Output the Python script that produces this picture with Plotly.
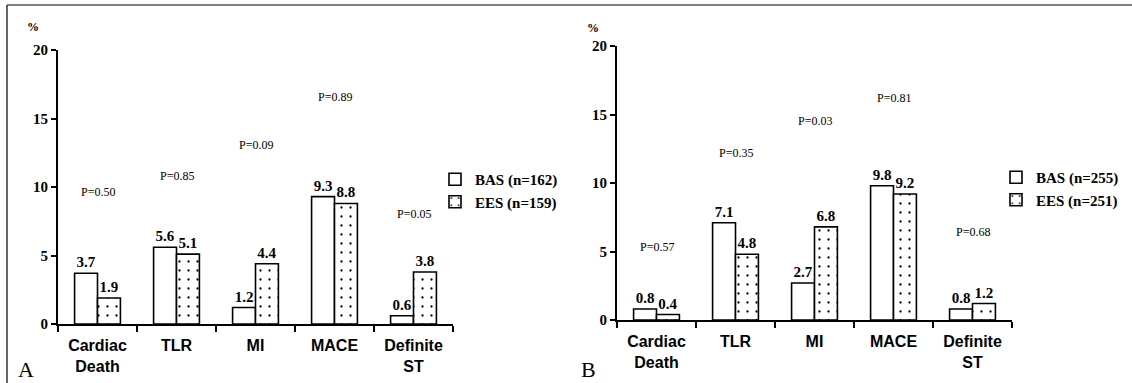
import plotly.graph_objects as go

# ---- data ----
categories = ["Cardiac<br>Death", "TLR", "MI", "MACE", "Definite<br>ST"]
bas_a = [3.7, 5.6, 1.2, 9.3, 0.6]
ees_a = [1.9, 5.1, 4.4, 8.8, 3.8]
bas_b = [0.8, 7.1, 2.7, 9.8, 0.8]
ees_b = [0.4, 4.8, 6.8, 9.2, 1.2]
p_a = ["P=0.50", "P=0.85", "P=0.09", "P=0.89", "P=0.05"]
p_b = ["P=0.57", "P=0.35", "P=0.03", "P=0.81", "P=0.68"]
legend_a = ["BAS (n=162)", "EES (n=159)"]
legend_b = ["BAS (n=255)", "EES (n=251)"]
y_ticks = [0, 5, 10, 15, 20]
panel_labels = ["A", "B"]

# ---- layout constants (label heights in axis units) ----
p_label_y_a = [9.6, 10.8, 13.1, 16.6, 8.0]
p_label_y_b = [5.3, 12.2, 14.5, 16.2, 6.4]

W, H = 1132, 383
SERIF = "Liberation Serif"
SANS = "Liberation Sans"


def px_x(v):
    return v / W


def px_y(v):
    return 1 - v / H


fig = go.Figure()

bar_line = dict(color="black", width=1.6)
dot_pattern = dict(shape=".", fgcolor="black", bgcolor="white", size=9, solidity=0.05)
txt_font = dict(family=SERIF, size=15, color="black")


def add_pair(bas, ees, names, xa, ya, leg):
    fig.add_trace(go.Bar(
        x=categories, y=bas, name=names[0], xaxis=xa, yaxis=ya, legend=leg,
        marker=dict(color="white", line=bar_line),
        texttemplate="<b>%{y:.1f}</b>", textposition="outside",
        textfont=txt_font, cliponaxis=False, constraintext="none",
    ))
    fig.add_trace(go.Bar(
        x=categories, y=ees, name=names[1], xaxis=xa, yaxis=ya, legend=leg,
        marker=dict(color="white", line=bar_line, pattern=dot_pattern),
        texttemplate="<b>%{y:.1f}</b>", textposition="outside",
        textfont=txt_font, cliponaxis=False, constraintext="none",
    ))


add_pair(bas_a, ees_a, legend_a, "x", "y", "legend")
add_pair(bas_b, ees_b, legend_b, "x2", "y2", "legend2")

xcommon = dict(
    showline=True, linecolor="black", linewidth=2, automargin=False,
    ticks="outside", ticklen=6, tickwidth=2, tickcolor="black",
    tickson="boundaries", showgrid=False, zeroline=False,
    tickfont=dict(family=SANS, size=16, color="black", weight="bold"),
    ticklabelstandoff=6, fixedrange=True,
)
ycommon = dict(
    range=[0, 20], tickmode="array", tickvals=y_ticks, automargin=False,
    showline=True, linecolor="black", linewidth=2,
    ticks="outside", ticklen=5, tickwidth=2, tickcolor="black",
    showgrid=False, zeroline=False,
    tickfont=dict(family=SERIF, size=15, color="black", weight="bold"),
    fixedrange=True,
)

legend_common = dict(
    xanchor="left", yanchor="top",
    font=dict(family=SERIF, size=15, color="black", weight="bold"),
    bgcolor="rgba(0,0,0,0)", itemwidth=30, tracegroupgap=0,
)

fig.update_layout(
    template="none",
    width=W, height=H, autosize=False,
    margin=dict(l=0, r=0, t=0, b=0, pad=0),
    paper_bgcolor="white", plot_bgcolor="white",
    barmode="group", bargap=0.42, bargroupgap=0,
    xaxis=dict(domain=[px_x(58), px_x(453)], anchor="y", **xcommon),
    yaxis=dict(domain=[px_y(324), px_y(50)], anchor="x", **ycommon),
    xaxis2=dict(domain=[px_x(617), px_x(1012)], anchor="y2", **xcommon),
    yaxis2=dict(domain=[px_y(320), px_y(46)], anchor="x2", **ycommon),
    legend=dict(x=px_x(435), y=px_y(163), **legend_common),
    legend2=dict(x=px_x(996), y=px_y(161), **legend_common),
    showlegend=True,
)

annotations = []
for cat, txt, yv in zip(categories, p_a, p_label_y_a):
    annotations.append(dict(x=cat, y=yv, xref="x", yref="y", text=txt, showarrow=False,
                            xanchor="center", yanchor="middle",
                            font=dict(family=SERIF, size=12, color="black")))
for cat, txt, yv in zip(categories, p_b, p_label_y_b):
    annotations.append(dict(x=cat, y=yv, xref="x2", yref="y2", text=txt, showarrow=False,
                            xanchor="center", yanchor="middle",
                            font=dict(family=SERIF, size=12, color="black")))
# % unit labels
for xp, yp in [(33, 27), (593, 28)]:
    annotations.append(dict(x=px_x(xp), y=px_y(yp), xref="paper", yref="paper", text="<b>%</b>",
                            showarrow=False, xanchor="center", yanchor="middle",
                            font=dict(family=SERIF, size=12, color="black")))
# panel letters
for lab, xp, yp in [(panel_labels[0], 26, 369), (panel_labels[1], 588, 369)]:
    annotations.append(dict(x=px_x(xp), y=px_y(yp), xref="paper", yref="paper", text=lab,
                            showarrow=False, xanchor="center", yanchor="middle",
                            font=dict(family=SERIF, size=22, color="black")))
fig.update_layout(annotations=annotations)

# frame lines (top and left)
fig.add_shape(type="line", xref="paper", yref="paper", x0=px_x(7), x1=1, y0=px_y(5), y1=px_y(5),
              line=dict(color="#555555", width=1.5))
fig.add_shape(type="line", xref="paper", yref="paper", x0=px_x(7), x1=px_x(7), y0=px_y(5), y1=0,
              line=dict(color="#333333", width=1.5))

fig.write_html(
    "out.html",
    config={"displayModeBar": False},
    post_script="document.body.style.margin='0px';document.body.style.overflow='hidden';",
)
